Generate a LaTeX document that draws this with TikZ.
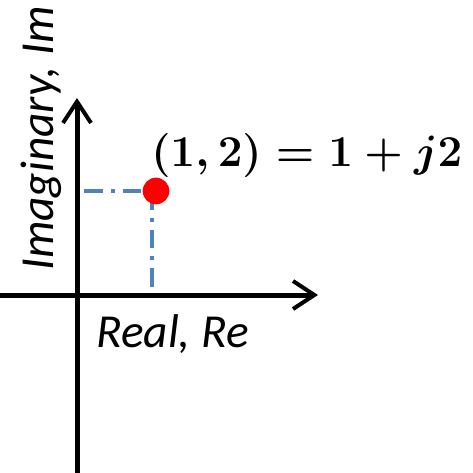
\RequirePackage{fix-cm}
\documentclass[tikz,border=0pt]{standalone}
\usepackage{fontspec}
\newfontfamily\calibri{Carlito}
\usetikzlibrary{arrows.meta}
\definecolor{guideblue}{RGB}{79,129,189}
\tikzset{
  axis/.style={line width=3.75pt,-{Straight Barb[length=16pt,width=21pt,line width=3pt]}},
  guide/.style={line width=2.8pt,guideblue,dash pattern=on 14pt off 6pt on 3pt off 6pt},
  pointdot/.style={circle,fill=red,inner sep=0pt,minimum size=20pt},
  pointlabel/.style={inner sep=0pt,font=\fontsize{33}{40}\selectfont\boldmath},
  axislabel/.style={font=\calibri\itshape\fontsize{35.5}{42}\selectfont,inner sep=0pt}
}
\begin{document}
\begin{tikzpicture}[x=0.75pt,y=-0.75pt]
\useasboundingbox (0,0) rectangle (473,473);
\coordinate (xstart) at (0,295);\coordinate (xend) at (318,295);
\coordinate (ystart) at (77,473);\coordinate (yend) at (77,98);
\draw[axis] (xstart)--(xend);
\draw[axis] (ystart)--(yend);
\coordinate (pim) at (84,191);\coordinate (pre) at (152,295);\coordinate (pcorner) at (152,191);
\draw[guide] (pim)--(pcorner);
\draw[guide] (pcorner)--(pre);
\node[pointdot] (p) at (156,191) {};
\node[pointlabel,anchor=base west] (plabel) at (151,167) {$(1,2) = 1 + j2$};
\node[axislabel,anchor=base west] (relabel) at (96,347) {Real, Re};
\node[axislabel,anchor=base west,rotate=90] (imlabel) at (53,271) {Imaginary, Im};
\end{tikzpicture}
\end{document}
